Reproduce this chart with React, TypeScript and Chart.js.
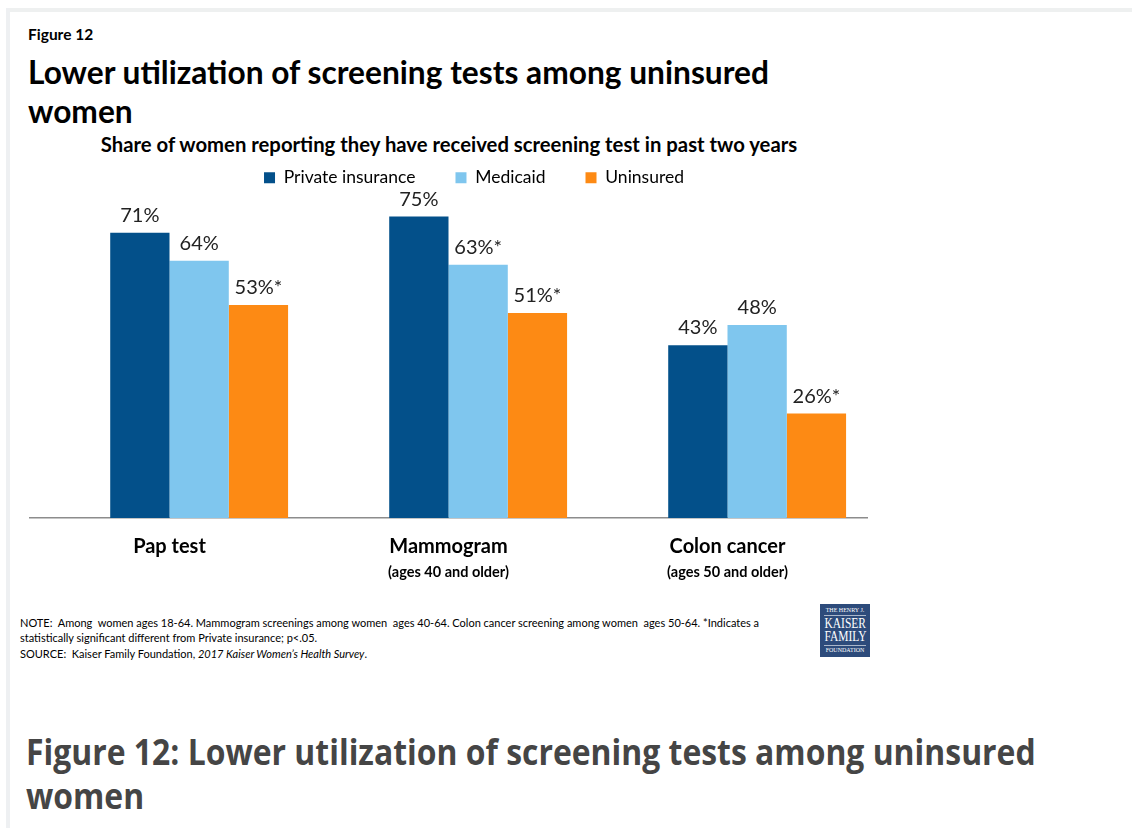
import React, { useEffect, useLayoutEffect, useRef, useState } from 'react';
import { Chart, registerables } from 'chart.js';

Chart.register(...registerables);

// ---- data ----
const categories = ['Pap test', 'Mammogram', 'Colon cancer'];
const categoryNotes = ['', '(ages 40 and older)', '(ages 50 and older)'];
const seriesNames = ['Private insurance', 'Medicaid', 'Uninsured'];
const privateInsurance = [71, 75, 43];
const medicaid = [64, 63, 48];
const uninsured = [53, 51, 26];
const privateSignificant = [false, false, false];
const medicaidSignificant = [false, true, false];
const uninsuredSignificant = [true, true, true];
const seriesColors = ['#03508a', '#7fc6ee', '#fd8a14'];

const FONT = 'Lato, "Open Sans", sans-serif';

const seriesValues = [privateInsurance, medicaid, uninsured];
const seriesFlags = [privateSignificant, medicaidSignificant, uninsuredSignificant];

const valueLabelPlugin = {
  id: 'valueLabels',
  afterDatasetsDraw(chart: any) {
    const ctx = chart.ctx;
    ctx.save();
    ctx.font = `20px ${FONT}`;
    ctx.fillStyle = '#222';
    ctx.textAlign = 'center';
    ctx.textBaseline = 'alphabetic';
    chart.data.datasets.forEach((ds: any, i: number) => {
      if (i === 0) return;
      const meta = chart.getDatasetMeta(i);
      meta.data.forEach((bar: any, j: number) => {
        const v = ds.data[j];
        if (v == null) return;
        const star = seriesFlags[i - 1][j] ? '*' : '';
        ctx.fillText(`${v}%${star}`, bar.x, bar.y - 11);
      });
    });
    ctx.font = `bold 14.5px ${FONT}`;
    ctx.fillStyle = '#000';
    const xs = chart.scales.x;
    categoryNotes.forEach((t, j) => {
      if (!t) return;
      ctx.fillText(t, xs.getPixelForValue(j), chart.chartArea.bottom + 59);
    });
    ctx.restore();
  },
};

function ChartCanvas() {
  const ref = useRef<HTMLCanvasElement>(null);
  useEffect(() => {
    if (!ref.current) return;
    const chart = new Chart(ref.current, {
      type: 'bar',
      data: {
        labels: categories,
        datasets: [
          { label: '', data: categories.map(() => null), backgroundColor: 'rgba(0,0,0,0)' },
          ...seriesNames.map((name, i) => ({
            label: name,
            data: seriesValues[i],
            backgroundColor: seriesColors[i],
          })),
        ],
      },
      options: {
        animation: false,
        responsive: false,
        categoryPercentage: 0.85,
        barPercentage: 1,
        layout: { padding: { left: 30, right: 0, top: 0, bottom: 30 } },
        plugins: {
          tooltip: { enabled: false },
          title: { display: false },
          legend: {
            position: 'top',
            labels: {
              boxWidth: 11,
              boxHeight: 11,
              padding: 40,
              color: '#000',
              font: { family: FONT, size: 17.5 },
              filter: (item: any) => item.datasetIndex !== 0,
            },
          },
        },
        scales: {
          x: {
            grid: { display: false, drawTicks: false },
            border: { display: true, color: '#8c8c8c', width: 1.5 },
            ticks: { color: '#000', padding: 17, font: { family: FONT, size: 20, weight: 'bold' } },
          },
          y: {
            position: 'right',
            min: 0,
            max: 80,
            grid: { display: false, drawTicks: false },
            border: { display: false },
            ticks: { display: false },
            afterFit: (s: any) => {
              s.width = 51;
            },
          },
        },
      } as any,
      plugins: [valueLabelPlugin],
    });
    return () => chart.destroy();
  }, []);
  return (
    <canvas
      ref={ref}
      width={918}
      height={477}
      style={{ position: 'absolute', left: 0, top: 129, width: 918, height: 477, display: 'block' }}
    />
  );
}

export default function App() {
  const capRef = useRef<HTMLSpanElement>(null);
  const [capScale, setCapScale] = useState(0.75);
  useLayoutEffect(() => {
    const measure = () => {
      const w = capRef.current ? capRef.current.offsetWidth : 0;
      if (w > 0) setCapScale(1010 / w);
    };
    measure();
    if ((document as any).fonts && (document as any).fonts.ready) {
      (document as any).fonts.ready.then(measure);
    }
  }, []);

  return (
    <div
      style={{
        position: 'absolute',
        left: 0,
        top: 0,
        width: 1132,
        height: 828,
        background: '#fff',
        overflow: 'hidden',
        fontFamily: FONT,
      }}
    >
      {/* frame */}
      <div style={{ position: 'absolute', left: 6, top: 8, width: 1126, height: 4, background: '#eef0f0' }} />
      <div style={{ position: 'absolute', left: 6, top: 8, width: 4, height: 820, background: '#eef0f2' }} />

      <div style={{ position: 'absolute', left: 28, top: 25, fontSize: 15.5, lineHeight: '18px', fontWeight: 700, color: '#000' }}>
        Figure 12
      </div>
      <div style={{ position: 'absolute', left: 28, top: 52.5, width: 900, fontSize: 31.7, lineHeight: '39px', fontWeight: 700, color: '#000' }}>
        Lower utilization of screening tests among uninsured
        <br />
        women
      </div>
      <div
        style={{
          position: 'absolute',
          left: 0,
          top: 132,
          width: 898,
          textAlign: 'center',
          fontSize: 20.3,
          lineHeight: '24px',
          fontWeight: 700,
          color: '#000',
          whiteSpace: 'nowrap',
        }}
      >
        Share of women reporting they have received screening test in past two years
      </div>

      <ChartCanvas />

      <div
        style={{
          position: 'absolute',
          left: 20,
          top: 616,
          fontSize: 11,
          lineHeight: '14.5px',
          color: '#000',
          whiteSpace: 'pre',
        }}
      >
        {'NOTE:  Among  women ages 18-64. Mammogram screenings among women  ages 40-64. Colon cancer screening among women  ages 50-64. *Indicates a\n'}
        {'statistically significant different from Private insurance; p<.05.\n'}
        <span style={{ display: 'inline-block', marginTop: 1.5 }}>
          {'SOURCE:  Kaiser Family Foundation, '}
          <i>2017 Kaiser Women’s Health Survey</i>.
        </span>
      </div>

      {/* logo */}
      <div
        style={{
          position: 'absolute',
          left: 820,
          top: 604,
          width: 50,
          height: 53,
          background: '#2d4b7b',
          color: '#fff',
          fontFamily: '"Liberation Serif", "DejaVu Serif", serif',
          textAlign: 'center',
          overflow: 'hidden',
        }}
      >
        <div style={{ fontSize: 6, lineHeight: '7px', marginTop: 3, whiteSpace: 'nowrap' }}>THE HENRY J.</div>
        <div style={{ borderTop: '1px solid rgba(255,255,255,0.6)', margin: '1px 4px 0' }} />
        <div style={{ fontSize: 14, lineHeight: '13px', marginTop: 1, transform: 'scaleX(0.82)' }}>KAISER</div>
        <div style={{ fontSize: 14, lineHeight: '13px', transform: 'scaleX(0.82)' }}>FAMILY</div>
        <div style={{ borderTop: '1px solid rgba(255,255,255,0.6)', margin: '2px 4px 0' }} />
        <div style={{ fontSize: 6, lineHeight: '7px', marginTop: 1, whiteSpace: 'nowrap' }}>FOUNDATION</div>
      </div>

      {/* caption */}
      <div
        style={{
          position: 'absolute',
          left: 26,
          top: 730,
          fontFamily: '"Open Sans", sans-serif',
          fontWeight: 700,
          fontSize: 36,
          lineHeight: '44px',
          color: '#454545',
          whiteSpace: 'nowrap',
          transform: `scaleX(${capScale})`,
          transformOrigin: '0 0',
        }}
      >
        <span ref={capRef} style={{ display: 'inline-block' }}>
          Figure 12: Lower utilization of screening tests among uninsured
        </span>
        <br />
        women
      </div>
    </div>
  );
}
